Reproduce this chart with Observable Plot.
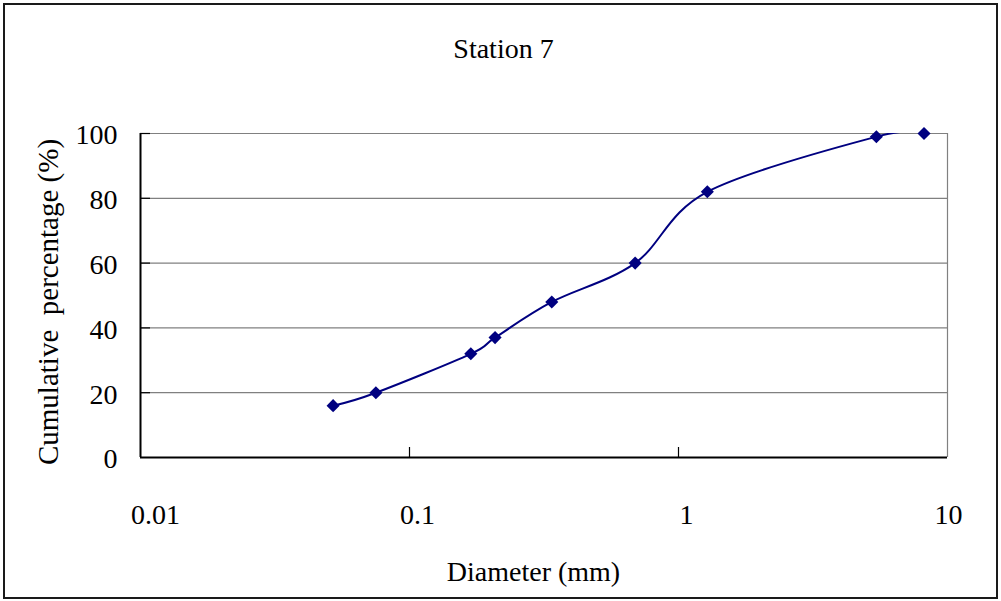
<!DOCTYPE html>
<html>
<head>
<meta charset="utf-8">
<script src="https://cdn.jsdelivr.net/npm/d3@7"></script>
<script src="https://cdn.jsdelivr.net/npm/@observablehq/plot@0.6"></script>
<style>
  body { margin: 0; background: #fff; }
  #chart { position: relative; width: 1001px; height: 601px; font-family: "Liberation Serif", "Times New Roman", serif; }
  #chart svg { position: absolute; left: 0; top: 0; }
  #outline { position: absolute; left: 3px; top: 3px; width: 995px; height: 596px; border: 2px solid #1a1a1a; box-sizing: border-box; pointer-events: none; }
</style>
</head>
<body>
<div id="chart"><div id="outline"></div></div>
<script>
// Grain-size distribution, station 7
const title = "Station 7";
const diameter = [0.052, 0.075, 0.169, 0.208, 0.338, 0.69, 1.28, 5.44, 8.18];   // mm
const cumulative = [16, 20, 32, 37, 48, 60, 82, 99, 100];                      // %
const xTicks = [0.01, 0.1, 1, 10];
const yTicks = [0, 20, 40, 60, 80, 100];
const xLabel = "Diameter (mm)";
const yLabel = "Cumulative\u00a0\u00a0percentage (%)";

const rows = diameter.map((d, i) => ({d, p: cumulative[i]}));

const W = 1001, H = 601;
const mL = 140, mR = 54, mT = 133, mB = 144;
const frameW = W - mL - mR, frameH = H - mT - mB;
const font = 28;
const navy = "#000080";
const grey = "#808080";

const chart = Plot.plot({
  width: W,
  height: H,
  marginLeft: mL, marginRight: mR, marginTop: mT, marginBottom: mB,
  style: {fontFamily: "'Liberation Serif', 'Times New Roman', serif", background: "transparent", color: "#000"},
  x: {type: "log", domain: [xTicks[0], xTicks[xTicks.length - 1]], axis: null},
  y: {domain: [yTicks[0], yTicks[yTicks.length - 1]], axis: null},
  marks: [
    // horizontal gridlines and the right edge of the plot area
    Plot.ruleY(yTicks.slice(1), {stroke: grey, strokeWidth: 1.2}),
    Plot.ruleX(xTicks.slice(-1), {stroke: grey, strokeWidth: 1.2}),
    // axis lines
    Plot.ruleX(xTicks.slice(0, 1), {stroke: "#000", strokeWidth: 2}),
    Plot.ruleY(yTicks.slice(0, 1), {stroke: "#000", strokeWidth: 2}),
    // inward tick marks
    Plot.tickY(yTicks.slice(1), {y: d => d, stroke: "#000", strokeWidth: 1.2, insetRight: frameW - 10}),
    Plot.tickX(xTicks.slice(1, -1), {x: d => d, stroke: "#000", strokeWidth: 1.2, insetTop: frameH - 10}),
    // tick labels
    Plot.axisY(yTicks, {anchor: "left", label: null, tickSize: 0, tickPadding: 23, fontSize: font, dy: 2, tickFormat: d => String(d)}),
    Plot.axisX(xTicks.slice(0, 1), {anchor: "bottom", label: null, tickSize: 0, tickPadding: 47, fontSize: font, dx: 15, tickFormat: d => String(d)}),
    Plot.axisX(xTicks.slice(1, -1), {anchor: "bottom", label: null, tickSize: 0, tickPadding: 47, fontSize: font, dx: 8, tickFormat: d => String(d)}),
    Plot.axisX(xTicks.slice(-1), {anchor: "bottom", label: null, tickSize: 0, tickPadding: 47, fontSize: font, dx: 1, tickFormat: d => String(d)}),
    // smoothed cumulative curve, clipped to the plot area
    Plot.line(rows, {x: "d", y: "p", stroke: navy, strokeWidth: 2, curve: "cardinal", tension: 0, clip: true}),
    Plot.dot(rows, {x: "d", y: "p", symbol: "diamond2", r: 5.9, fill: navy, stroke: "none"}),
    // titles
    Plot.text([title], {frameAnchor: "top", text: d => d, fontSize: font, textAnchor: "middle", lineAnchor: "bottom", dx: -40.5, dy: -76, fill: "#000"}),
    Plot.text([xLabel], {frameAnchor: "bottom", text: d => d, fontSize: font, textAnchor: "middle", lineAnchor: "bottom", dx: -10.5, dy: 123, fill: "#000"}),
    Plot.text([yLabel], {frameAnchor: "left", text: d => d, fontSize: 29, textAnchor: "middle", lineAnchor: "bottom", rotate: -90, dx: -83, dy: 6.5, fill: "#000"})
  ]
});

document.getElementById("chart").prepend(chart);
</script>
</body>
</html>
